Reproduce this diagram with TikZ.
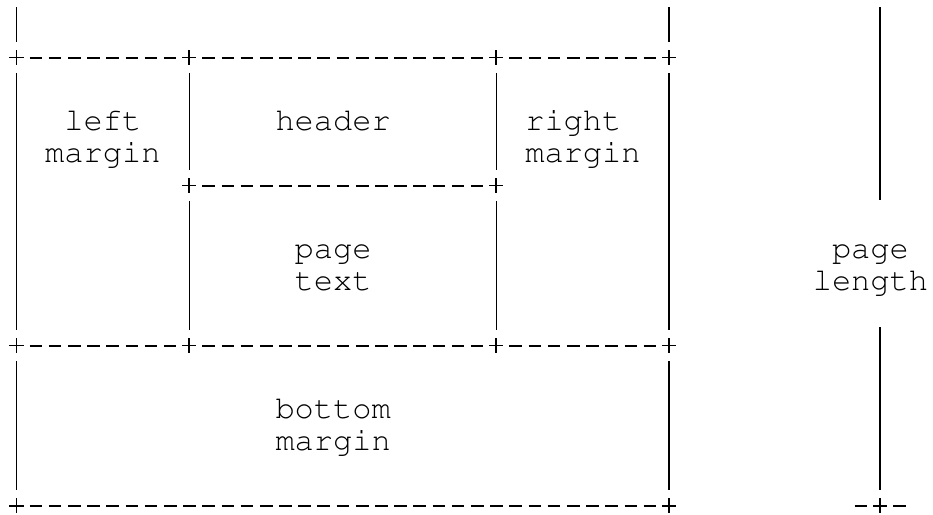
\documentclass[tikz,border=0pt]{standalone}
\usepackage[T1]{fontenc}
\usepackage{courier}
\begin{document}
\begin{tikzpicture}[x=14.39pt, y=-24pt,
  junction/.style={inner sep=0pt, minimum width=19.28pt, minimum height=22.6pt,
    path picture={\draw[line width=1.4pt]
      ([xshift=-5.4pt]path picture bounding box.center) -- ([xshift=5.4pt]path picture bounding box.center)
      ([yshift=-5.4pt]path picture bounding box.center) -- ([yshift=5.4pt]path picture bounding box.center);}},
  rule/.style={-, line width=1.5pt, draw=black, dash pattern=on 9.5pt off 4.89pt},
  bar/.style={-, line width=1pt, draw=black},
  area/.style={inner sep=0pt, font=\ttfamily\fontsize{24pt}{24pt}\selectfont, align=center, anchor=base}]
\useasboundingbox (-0.86,-0.797) rectangle (47.76,15.27);
\node[junction] (t0) at (0,1) {};
\node[junction] (t9) at (9,1) {};
\node[junction] (t25) at (25,1) {};
\node[junction] (t34) at (34,1) {};
\node[junction] (h9) at (9,5) {};
\node[junction] (h25) at (25,5) {};
\node[junction] (m0) at (0,10) {};
\node[junction] (m9) at (9,10) {};
\node[junction] (m25) at (25,10) {};
\node[junction] (m34) at (34,10) {};
\node[junction] (b0) at (0,15) {};
\node[junction] (b34) at (34,15) {};
\node[junction] (b45) at (45,15) {};
\coordinate (top0) at (0,-0.569);
\coordinate (top34) at (34,-0.569);
\coordinate (top45) at (45,-0.569);
\coordinate (len1) at (45,5.46);
\coordinate (len2) at (45,9.425);
\coordinate (dl) at (43.67,15);
\coordinate (dr) at (46.33,15);
\node[area] (lm) at (4.5,4.27) {left\\margin};
\node[area] (hd) at (16.5,3.27) {header};
\node[area, align=left, anchor=base west] (rm) at (26.5,4.27) {right\\margin};
\node[area] (pt) at (16.5,8.27) {page\\text};
\node[area] (pl) at (44.5,8.27) {page\\length};
\node[area] (bm) at (16.5,13.27) {bottom\\margin};
\path [rule] (t0) edge (t9);
\path [rule] (t9) edge (t25);
\path [rule] (t25) edge (t34);
\path [rule] (h9) edge (h25);
\path [rule] (m0) edge (m9);
\path [rule] (m9) edge (m25);
\path [rule] (m25) edge (m34);
\path [rule] (b0) edge (b34);
\path [rule] (dl) edge (b45);
\path [rule] (b45) edge (dr);
\path [bar] (top0) edge (t0);
\path [bar] (t0) edge (m0);
\path [bar] (m0) edge (b0);
\path [bar] (t9) edge (h9);
\path [bar] (h9) edge (m9);
\path [bar] (t25) edge (h25);
\path [bar] (h25) edge (m25);
\path [bar] (top34) edge (t34);
\path [bar] (t34) edge (m34);
\path [bar] (m34) edge (b34);
\path [bar] (top45) edge (len1);
\path [bar] (len2) edge (b45);
\end{tikzpicture}
\end{document}
